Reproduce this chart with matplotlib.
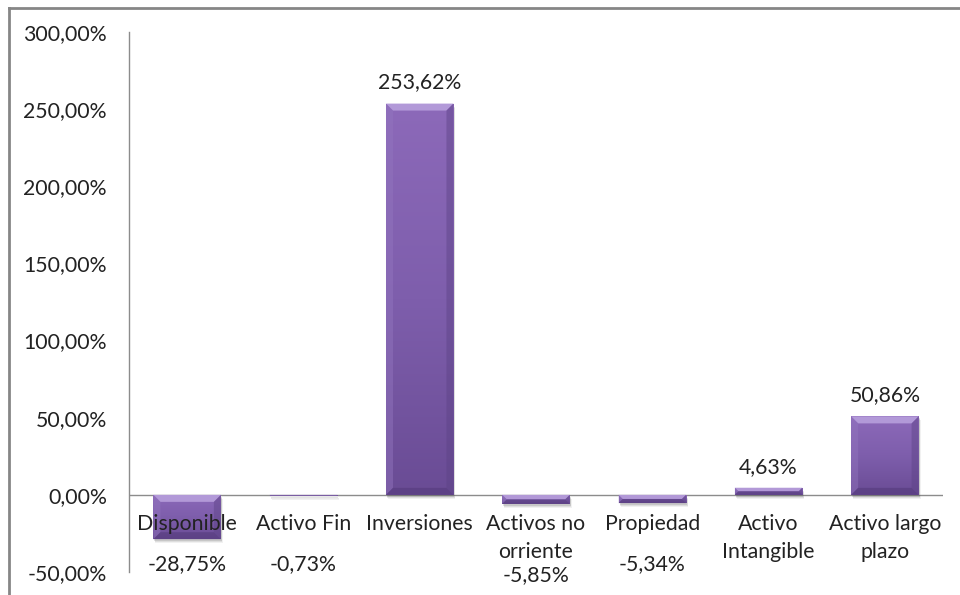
import numpy as np
import matplotlib
matplotlib.use("Agg")
import matplotlib.pyplot as plt
from matplotlib.patches import Polygon, Rectangle
from matplotlib.lines import Line2D
from matplotlib.colors import LinearSegmentedColormap
from matplotlib.ticker import FixedLocator, FuncFormatter

categories = ["Disponible", "Activo Fin", "Inversiones", "Activos no\norriente",
              "Propiedad", "Activo\nIntangible", "Activo largo\nplazo"]
values = [-28.75, -0.73, 253.62, -5.85, -5.34, 4.63, 50.86]
y_ticks = [-50, 0, 50, 100, 150, 200, 250, 300]

plt.rcParams["font.family"] = ["Lato", "DejaVu Sans"]
TEXT = "#222222"
FS = 15.3


def pct(v):
    return f"{v:.2f}%".replace(".", ",")


fig = plt.figure(figsize=(9.6, 5.95), dpi=100)
ax = fig.add_axes([129 / 960, 1 - 572 / 595, (943 - 129) / 960, (572 - 32) / 595])

x = np.arange(len(categories))
bars = ax.bar(x, values, width=0.58, color="#7a5aa8", edgecolor="none", zorder=3)
ax.set_xlim(-0.5, len(categories) - 0.5)
ax.set_ylim(-50, 300)

# vertical gradient + bevel on each bar
grad_cmap = LinearSegmentedColormap.from_list("face", ["#8c69b9", "#7e5eac", "#6a4c95"])
to_data = ax.transData.inverted()
for bar in bars:
    x0, y0 = bar.get_x(), min(bar.get_y(), bar.get_y() + bar.get_height())
    x1, y1 = x0 + bar.get_width(), max(bar.get_y(), bar.get_y() + bar.get_height())
    # soft drop shadow
    (px0, py0), (px1, py1) = ax.transData.transform([(x0, y0), (x1, y1)])
    for k, a in [(4, 0.08), (3, 0.12), (2, 0.16)]:
        s = to_data.transform([(px0 + k * 0.5, py0 - k), (px1 + k * 0.5, py1 - k)])
        ax.add_patch(Rectangle(s[0], s[1][0] - s[0][0], s[1][1] - s[0][1],
                               facecolor="#555555", alpha=a, edgecolor="none", zorder=2.5))
    g = np.linspace(0, 1, 64).reshape(-1, 1)
    im = ax.imshow(g, extent=[x0, x1, y0, y1], aspect="auto", cmap=grad_cmap,
                   origin="upper", zorder=3.1, interpolation="bilinear")
    im.set_clip_path(bar)
    w, h = px1 - px0, py1 - py0
    b = min(7.0, h / 2, w / 2)
    pieces = [
        ([(px0, py1), (px1, py1), (px1 - b, py1 - b), (px0 + b, py1 - b)], "#b59cda", 0.95),
        ([(px0, py0), (px0, py1), (px0 + b, py1 - b), (px0 + b, py0 + b)], "#9376bf", 0.45),
        ([(px1, py0), (px1, py1), (px1 - b, py1 - b), (px1 - b, py0 + b)], "#5c4285", 0.45),
        ([(px0, py0), (px1, py0), (px1 - b, py0 + b), (px0 + b, py0 + b)], "#553b7c", 0.6),
    ]
    for pts, col, a in pieces:
        ax.add_patch(Polygon(to_data.transform(pts), closed=True, facecolor=col,
                             alpha=a, edgecolor="none", zorder=3.2))

ax.set_xlim(-0.5, len(categories) - 0.5)
ax.set_ylim(-50, 300)

# axes styling
for side in ("top", "right", "bottom"):
    ax.spines[side].set_visible(False)
ax.spines["left"].set_color("#8c8c8c")
ax.spines["left"].set_linewidth(1.0)
ax.axhline(0, color="#8c8c8c", linewidth=1.0, zorder=2)
ax.yaxis.set_major_locator(FixedLocator(y_ticks))
ax.yaxis.set_major_formatter(FuncFormatter(lambda v, _: pct(v)))
ax.tick_params(axis="y", length=0, pad=16, labelsize=FS, labelcolor=TEXT)
ax.set_xticks([])

# category names just below the zero line
for xi, name in zip(x, categories):
    ax.annotate(name, xy=(xi, 0), xytext=(0, -14), textcoords="offset points",
                ha="center", va="top", fontsize=FS, color=TEXT, linespacing=1.45,
                zorder=5)

# value labels
for xi, v, name in zip(x, values, categories):
    if v >= 0:
        ax.annotate(pct(v), xy=(xi, v), xytext=(0, 8), textcoords="offset points",
                    ha="center", va="bottom", fontsize=FS, color=TEXT, zorder=5)
    else:
        off = -58 if "\n" in name else -50
        ax.annotate(pct(v), xy=(xi, 0), xytext=(0, off), textcoords="offset points",
                    ha="center", va="center", fontsize=FS, color=TEXT, zorder=5)

# chart frame (top and left edges)
fx, fy = 8.5 / 960, 1 - 8 / 595
fig.add_artist(Line2D([fx, 1], [fy, fy], transform=fig.transFigure,
                      color="#868686", linewidth=2))
fig.add_artist(Line2D([fx, fx], [0, fy], transform=fig.transFigure,
                      color="#868686", linewidth=2))

fig.savefig("out.png", dpi=100)
